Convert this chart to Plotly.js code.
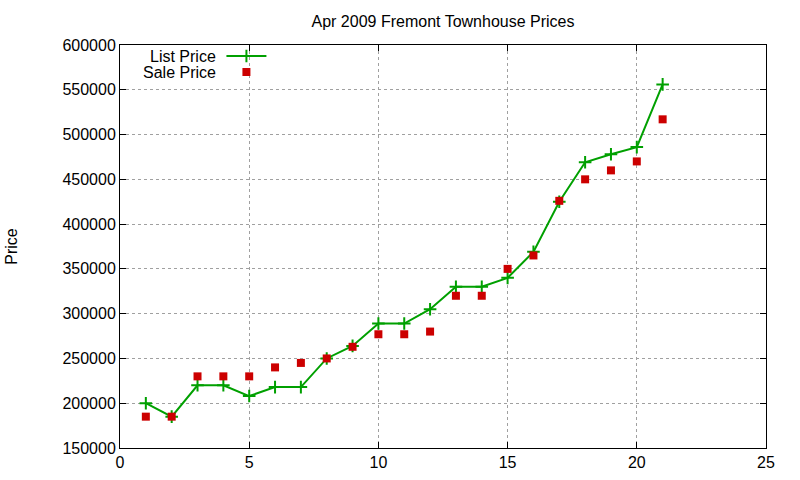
<!DOCTYPE html>
<html>
<head>
<meta charset="utf-8">
<script src="https://cdn.plot.ly/plotly-3.0.1.min.js"></script>
<style>
  body { margin: 0; background: #fff; }
  #graph { width: 800px; height: 480px; }
</style>
</head>
<body>
<div id="graph"></div>
<script>
const homes = [1, 2, 3, 4, 5, 6, 7, 8, 9, 10, 11, 12, 13, 14, 15, 16, 17, 18, 19, 20, 21]
const listPrice = [200000, 185000, 220000, 220000, 208000, 218000, 218000, 250000, 264000, 289000, 289000,
  305000, 330000, 330000, 340000, 369000, 425000, 469000, 478000, 486000, 556000]
const salePrice = [185000, 185000, 230000, 230000, 230000, 240000, 245000, 250000, 263000, 277000, 277000,
  280000, 320000, 320000, 350000, 365000, 426000, 450000, 460000, 470000, 517000]
const seriesNames = ['List Price', 'Sale Price']

const font = 'Liberation Sans, Arial, sans-serif'
// legend rows, in paper units (gnuplot style: text on the left, key on the right)
const keyRows = [0.9727, 0.933]

const listTrace = {
  x: homes,
  y: listPrice,
  name: '',
  legend: 'legend',
  type: 'scatter',
  mode: 'lines+markers',
  line: { color: '#00a000', width: 2 },
  marker: { symbol: 'cross-thin-open', size: 9, line: { color: '#00a000', width: 2 } }
}

const saleTrace = {
  x: homes,
  y: salePrice,
  name: '',
  legend: 'legend2',
  type: 'scatter',
  mode: 'markers',
  marker: { symbol: 'square', size: 8, color: '#cc0000' }
}

const axisStyle = {
  showline: true,
  mirror: 'ticks',
  linecolor: '#000',
  linewidth: 1,
  ticks: 'inside',
  ticklen: 6,
  tickcolor: '#000',
  showgrid: true,
  gridcolor: '#a0a0a0',
  griddash: 'dot',
  gridwidth: 1,
  zeroline: false,
  tickfont: { family: font, size: 16, color: '#000' }
}

function keyBox(y) {
  return {
    x: 0.157,
    y: y,
    xanchor: 'left',
    yanchor: 'middle',
    bgcolor: 'rgba(0,0,0,0)',
    itemwidth: 40,
    font: { family: font, size: 11, color: '#000' }
  }
}

Plotly.newPlot(
  'graph',
  [listTrace, saleTrace],
  {
    width: 800,
    height: 480,
    margin: { l: 120, r: 34, t: 45, b: 32 },
    paper_bgcolor: '#fff',
    plot_bgcolor: '#fff',
    title: {
      text: 'Apr 2009 Fremont Townhouse Prices',
      font: { family: font, size: 16, color: '#000' },
      xref: 'paper',
      x: 0.5,
      xanchor: 'center',
      y: 0.955,
      yanchor: 'middle'
    },
    xaxis: Object.assign({}, axisStyle, {
      range: [0, 25],
      dtick: 5,
      tick0: 0
    }),
    yaxis: Object.assign({}, axisStyle, {
      range: [150000, 600000],
      dtick: 50000,
      tick0: 150000,
      tickformat: 'd',
      title: { text: 'Price', font: { family: font, size: 16, color: '#000' }, standoff: 40 }
    }),
    showlegend: true,
    legend: keyBox(keyRows[0]),
    legend2: keyBox(keyRows[1]),
    annotations: seriesNames.map((name, i) => ({
      text: name,
      xref: 'paper',
      yref: 'paper',
      x: 0.151,
      y: keyRows[i],
      xanchor: 'right',
      yanchor: 'middle',
      showarrow: false,
      font: { family: font, size: 16, color: '#000' }
    }))
  },
  { staticPlot: true, displayModeBar: false }
)
</script>
</body>
</html>
